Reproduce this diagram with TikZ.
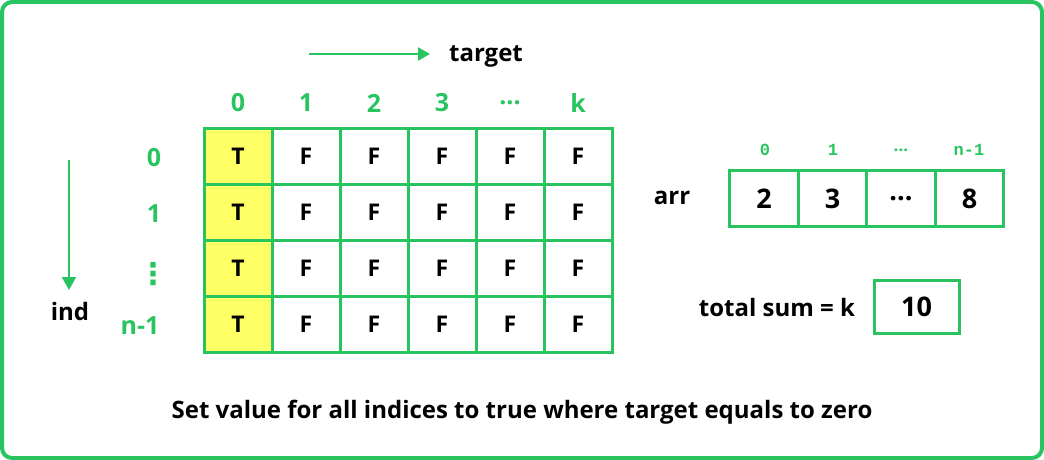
\documentclass[tikz,border=0pt]{standalone}
\usepackage{fontspec}
\setmainfont{Open Sans}
\newfontfamily\idxfont{Liberation Mono}
\newfontfamily\dotsfont{DejaVu Sans}
\usetikzlibrary{arrows.meta}
\definecolor{gfggreen}{RGB}{40,196,96}
\definecolor{cellyellow}{RGB}{255,255,102}
\begin{document}
\begin{tikzpicture}[x=1pt,y=-1pt]
\tikzstyle{every node}+=[inner sep=0pt,font=\bfseries\fontsize{24}{28}\selectfont]
\tikzstyle{cell}=[draw=gfggreen,line width=3pt,minimum width=68pt,minimum height=56pt,font=\bfseries\fontsize{23}{26}\selectfont]
\tikzstyle{tcell}=[cell,fill=cellyellow]
\tikzstyle{head}=[text=gfggreen,font=\bfseries\fontsize{25}{28}\selectfont]
\tikzstyle{idx}=[text=gfggreen,font=\idxfont\bfseries\fontsize{17}{20}\selectfont]
\tikzstyle{box}=[draw=gfggreen,line width=3pt,minimum height=56pt,font=\bfseries\fontsize{27}{30}\selectfont]
\useasboundingbox (0,0) rectangle (1044,460);
\draw [gfggreen,line width=4pt,rounded corners=10pt] (2,2) rectangle (1042,458);
% target axis
\coordinate (ta) at (309,54);
\coordinate (tb) at (430,54);
\draw [gfggreen,line width=2.5pt,-{Triangle[length=12pt,width=13pt]}] (ta) -- (tb);
\node (target) at (486,56) {target};
% ind axis
\coordinate (ia) at (69,160);
\coordinate (ib) at (69,290);
\draw [gfggreen,line width=2pt,-{Triangle[length=13pt,width=14pt]}] (ia) -- (ib);
\node (ind) at (70,311) {ind};
% column heads
\node [head] (h0) at (238,103) {0};
\node [head] (h1) at (306,103) {1};
\node [head] (h2) at (374,103) {2};
\node [head] (h3) at (442,103) {3};
\node [head] (h4) at (510,103) {...};
\node [head] (h5) at (578,103) {k};
% row heads
\node [head] (r0) at (154,158) {0};
\node [head] (r1) at (154,214) {1};
\node [head,font=\dotsfont\bfseries\fontsize{30}{34}\selectfont] (r2) at (153,274) {⋮};
\node [head] (r3) at (140,326) {n-1};
% dp table
\node [tcell] (c00) at (238,156) {T};
\node [cell] (c01) at (306,156) {F};
\node [cell] (c02) at (374,156) {F};
\node [cell] (c03) at (442,156) {F};
\node [cell] (c04) at (510,156) {F};
\node [cell] (c05) at (578,156) {F};
\node [tcell] (c10) at (238,212) {T};
\node [cell] (c11) at (306,212) {F};
\node [cell] (c12) at (374,212) {F};
\node [cell] (c13) at (442,212) {F};
\node [cell] (c14) at (510,212) {F};
\node [cell] (c15) at (578,212) {F};
\node [tcell] (c20) at (238,268) {T};
\node [cell] (c21) at (306,268) {F};
\node [cell] (c22) at (374,268) {F};
\node [cell] (c23) at (442,268) {F};
\node [cell] (c24) at (510,268) {F};
\node [cell] (c25) at (578,268) {F};
\node [tcell] (c30) at (238,324) {T};
\node [cell] (c31) at (306,324) {F};
\node [cell] (c32) at (374,324) {F};
\node [cell] (c33) at (442,324) {F};
\node [cell] (c34) at (510,324) {F};
\node [cell] (c35) at (578,324) {F};
% arr
\node (arr) at (672,198) {arr};
\node [idx] (i0) at (765,150) {0};
\node [idx] (i1) at (833,150) {1};
\node [idx,font=\bfseries\fontsize{17}{20}\selectfont] (i2) at (901,150) {...};
\node [idx] (i3) at (969,150) {n-1};
\node [box,minimum width=68.5pt] (a0) at (764,198.5) {2};
\node [box,minimum width=68.5pt] (a1) at (832.5,198.5) {3};
\node [box,minimum width=68.5pt] (a2) at (901,198.5) {...};
\node [box,minimum width=68.5pt] (a3) at (969.5,198.5) {8};
% total sum
\node (tsum) at (777,307) {total sum = k};
\node [box,minimum width=85pt,minimum height=53pt] (ksum) at (916.5,306.5) {10};
\node (caption) at (522,412) {Set value for all indices to true where target equals to zero};
\end{tikzpicture}
\end{document}
